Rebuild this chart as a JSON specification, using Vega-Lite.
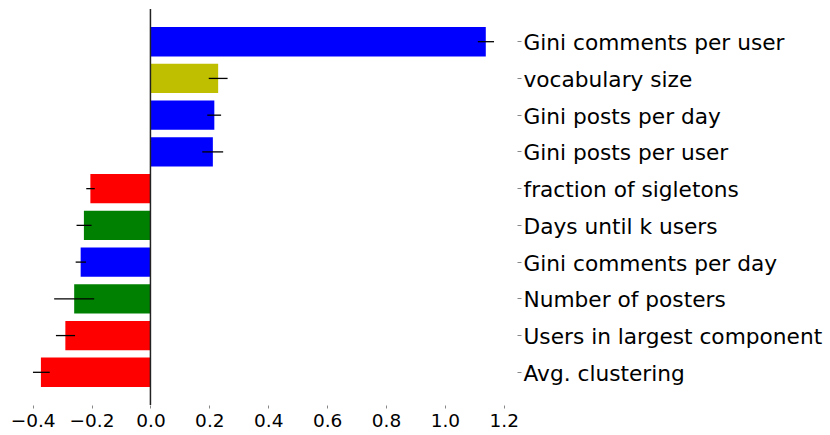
{
  "$schema": "https://vega.github.io/schema/vega-lite/v6.json",
  "width": 507,
  "height": 396,
  "autosize": {"type": "none"},
  "padding": {"left": 10, "top": 9, "right": 313, "bottom": 30},
  "background": "white",
  "data": {
    "values": [
      {"feature": "Gini comments per user", "group": "gini", "value": 1.139, "lo": 1.112, "hi": 1.167},
      {"feature": "vocabulary size", "group": "vocab", "value": 0.23, "lo": 0.198, "hi": 0.262},
      {"feature": "Gini posts per day", "group": "gini", "value": 0.217, "lo": 0.193, "hi": 0.24},
      {"feature": "Gini posts per user", "group": "gini", "value": 0.212, "lo": 0.176, "hi": 0.247},
      {"feature": "fraction of sigletons", "group": "network", "value": -0.204, "lo": -0.218, "hi": -0.189},
      {"feature": "Days until k users", "group": "growth", "value": -0.226, "lo": -0.251, "hi": -0.2},
      {"feature": "Gini comments per day", "group": "gini", "value": -0.237, "lo": -0.254, "hi": -0.219},
      {"feature": "Number of posters", "group": "growth", "value": -0.259, "lo": -0.327, "hi": -0.191},
      {"feature": "Users in largest component", "group": "network", "value": -0.289, "lo": -0.321, "hi": -0.256},
      {"feature": "Avg. clustering", "group": "network", "value": -0.372, "lo": -0.399, "hi": -0.342}
    ]
  },
  "encoding": {
    "y": {
      "field": "feature",
      "type": "nominal",
      "sort": null,
      "scale": {"paddingInner": 0.2, "paddingOuter": 0.49},
      "axis": {
        "orient": "right",
        "title": null,
        "domain": false,
        "ticks": true,
        "tickSize": 4,
        "tickColor": "#888888",
        "labelFont": "DejaVu Sans",
        "labelFontSize": 21.7,
        "labelColor": "black",
        "labelPadding": 2,
        "labelOffset": 1.5,
        "labelLimit": 400
      }
    }
  },
  "layer": [
    {
      "mark": {"type": "bar"},
      "encoding": {
        "x": {
          "field": "value",
          "type": "quantitative",
          "scale": {"domain": [-0.477, 1.245], "nice": false, "zero": false},
          "axis": {
            "title": null,
            "values": [-0.4, -0.2, 0, 0.2, 0.4, 0.6, 0.8, 1.0, 1.2],
            "format": ".1f",
            "domain": false,
            "grid": false,
            "tickSize": 3,
            "tickColor": "#888888",
            "labelFont": "DejaVu Sans",
            "labelFontSize": 18.5,
            "labelColor": "black",
            "labelPadding": 3
          }
        },
        "x2": {"datum": 0},
        "color": {
          "field": "group",
          "type": "nominal",
          "scale": {
            "domain": ["gini", "vocab", "growth", "network"],
            "range": ["#0000ff", "#bfbf00", "#008000", "#ff0000"]
          },
          "legend": null
        }
      }
    },
    {
      "mark": {"type": "rule", "color": "black", "strokeWidth": 1.3},
      "encoding": {
        "x": {"field": "lo", "type": "quantitative"},
        "x2": {"field": "hi"}
      }
    },
    {
      "data": {"values": [{"zero": 0}]},
      "mark": {"type": "rule", "color": "#222222", "strokeWidth": 1.5},
      "encoding": {
        "x": {"field": "zero", "type": "quantitative"},
        "y": null
      }
    }
  ],
  "config": {"view": {"stroke": null}}
}
